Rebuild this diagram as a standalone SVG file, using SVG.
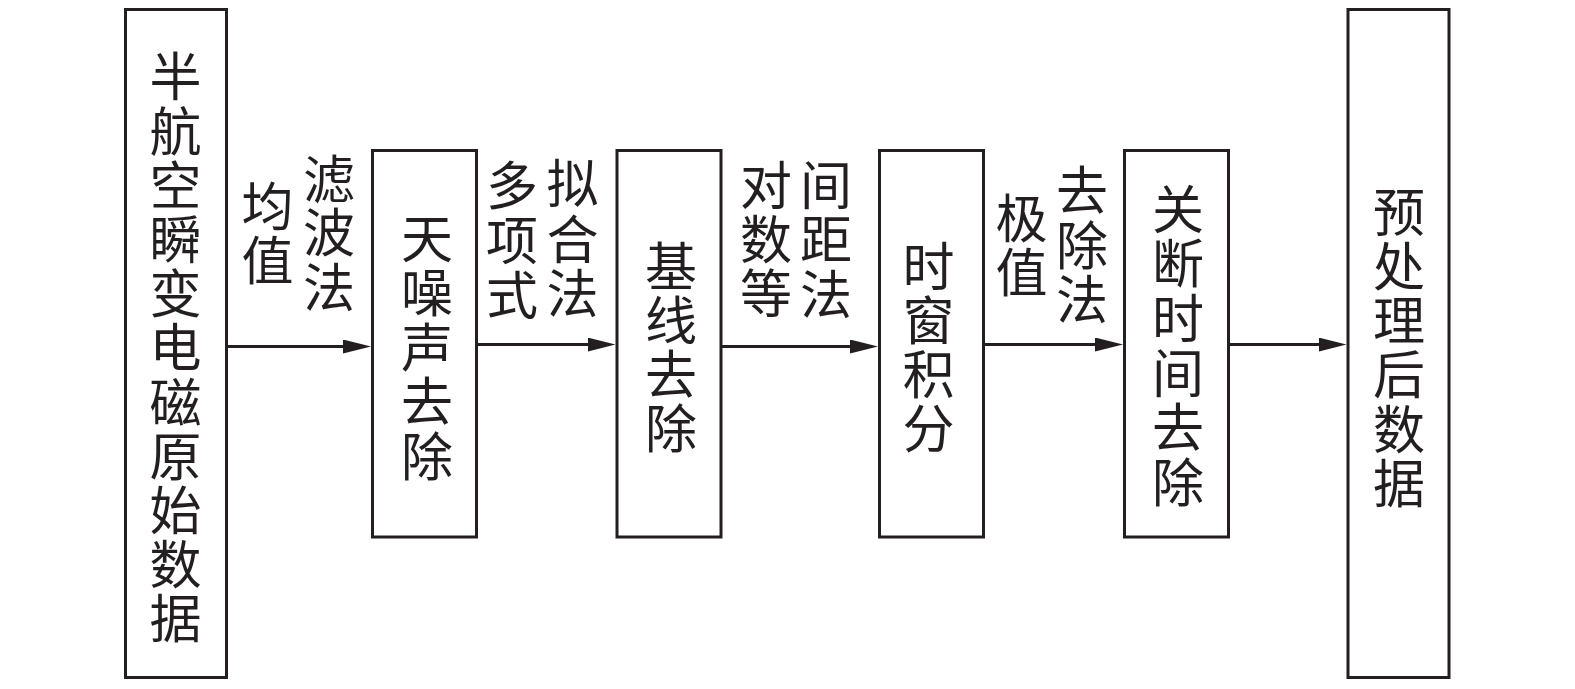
<svg xmlns="http://www.w3.org/2000/svg" width="1575" height="689" viewBox="0 0 1575 689">
<style>
.box{fill:#fff;stroke:#231f20;stroke-width:3}
.t{font-family:"Noto Sans CJK SC","Noto Sans CJK JP",sans-serif;font-size:52px;fill:#231f20;text-anchor:middle}
.conn line{stroke:#231f20;stroke-width:3}
</style>
<defs>
<marker id="ah" markerUnits="userSpaceOnUse" markerWidth="28" markerHeight="14" refX="2" refY="7" orient="auto">
<path d="M0,0 L28,7 L0,14 z" fill="#231f20"/>
</marker>
</defs>
<rect width="1575" height="689" fill="#fff"/>
<g id="n1">
<rect class="box" x="125.5" y="9.5" width="101" height="668"/>
<text class="t"><tspan x="175.5" y="96.3">半</tspan><tspan x="175.5" y="150.5">航</tspan><tspan x="175.5" y="204.7">空</tspan><tspan x="175.5" y="258.9">瞬</tspan><tspan x="175.5" y="313.1">变</tspan><tspan x="175.5" y="367.3">电</tspan><tspan x="175.5" y="421.5">磁</tspan><tspan x="175.5" y="475.7">原</tspan><tspan x="175.5" y="529.9">始</tspan><tspan x="175.5" y="584.1">数</tspan><tspan x="175.5" y="638.3">据</tspan></text>
</g>
<g id="n2">
<rect class="box" x="372.5" y="150.5" width="104" height="386.5"/>
<text class="t"><tspan x="427" y="257.8">天</tspan><tspan x="427" y="312.3">噪</tspan><tspan x="427" y="366.8">声</tspan><tspan x="427" y="421.3">去</tspan><tspan x="427" y="475.8">除</tspan></text>
</g>
<g id="n3">
<rect class="box" x="617" y="150.5" width="104" height="386.5"/>
<text class="t"><tspan x="671" y="285.8">基</tspan><tspan x="671" y="339.8">线</tspan><tspan x="671" y="393.8">去</tspan><tspan x="671" y="447.8">除</tspan></text>
</g>
<g id="n4">
<rect class="box" x="879.5" y="150.5" width="104" height="386.5"/>
<text class="t"><tspan x="928.5" y="285.8">时</tspan><tspan x="928.5" y="340.3">窗</tspan><tspan x="928.5" y="394.3">积</tspan><tspan x="928.5" y="448.3">分</tspan></text>
</g>
<g id="n5">
<rect class="box" x="1124.5" y="150.5" width="104" height="386.5"/>
<text class="t"><tspan x="1178" y="228.8">关</tspan><tspan x="1178" y="283.4">断</tspan><tspan x="1178" y="338">时</tspan><tspan x="1178" y="392.6">间</tspan><tspan x="1178" y="447.2">去</tspan><tspan x="1178" y="501.8">除</tspan></text>
</g>
<g id="n6">
<rect class="box" x="1348" y="9.5" width="101" height="668"/>
<text class="t"><tspan x="1399" y="231.8">预</tspan><tspan x="1399" y="286">处</tspan><tspan x="1399" y="340.2">理</tspan><tspan x="1399" y="394.4">后</tspan><tspan x="1399" y="448.6">数</tspan><tspan x="1399" y="502.8">据</tspan></text>
</g>
<g id="connectors" class="conn">
<line x1="226.5" y1="346.5" x2="345" y2="346.5" marker-end="url(#ah)"/>
<line x1="476.5" y1="344.5" x2="589.5" y2="344.5" marker-end="url(#ah)"/>
<line x1="721" y1="346.5" x2="852" y2="346.5" marker-end="url(#ah)"/>
<line x1="983.5" y1="344.5" x2="1097" y2="344.5" marker-end="url(#ah)"/>
<line x1="1228.5" y1="344.5" x2="1320.5" y2="344.5" marker-end="url(#ah)"/>
</g>
<g id="labels">
<text class="t"><tspan x="267.5" y="225.8">均</tspan><tspan x="267.5" y="279.8">值</tspan></text>
<text class="t"><tspan x="329" y="198.8">滤</tspan><tspan x="329" y="252.3">波</tspan><tspan x="329" y="306.8">法</tspan></text>
<text class="t"><tspan x="512" y="204.8">多</tspan><tspan x="512" y="259.8">项</tspan><tspan x="512" y="314.8">式</tspan></text>
<text class="t"><tspan x="572.5" y="202.8">拟</tspan><tspan x="572.5" y="258.8">合</tspan><tspan x="572.5" y="313.3">法</tspan></text>
<text class="t"><tspan x="766" y="204.8">对</tspan><tspan x="766" y="258.8">数</tspan><tspan x="766" y="312.8">等</tspan></text>
<text class="t"><tspan x="826" y="204.8">间</tspan><tspan x="826" y="258.8">距</tspan><tspan x="826" y="313.8">法</tspan></text>
<text class="t"><tspan x="1021.5" y="237.8">极</tspan><tspan x="1021.5" y="291.8">值</tspan></text>
<text class="t"><tspan x="1082" y="210.3">去</tspan><tspan x="1082" y="265.3">除</tspan><tspan x="1082" y="319.3">法</tspan></text>
</g>
</svg>
